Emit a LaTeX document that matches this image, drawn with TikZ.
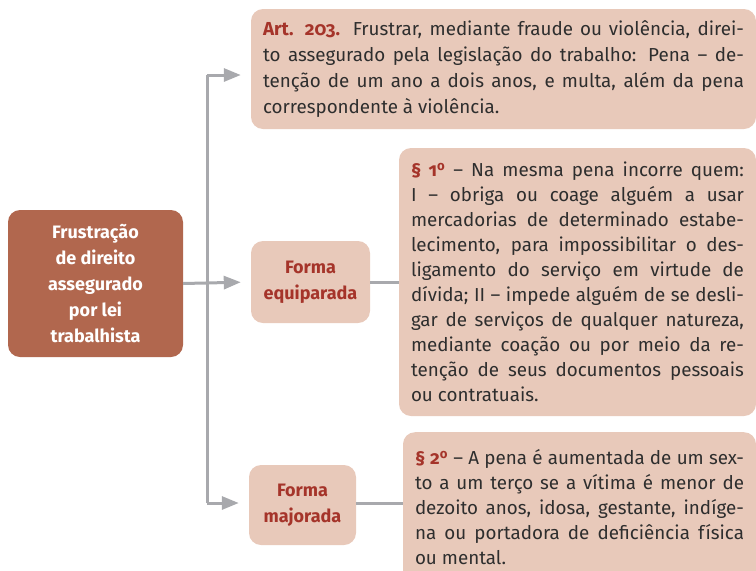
\documentclass[tikz,border=0pt]{standalone}
\usepackage{fontspec}
\setmainfont{Fira Sans}[Numbers=OldStyle]
\usepackage{tikz}
\usepackage{xcolor}
\usetikzlibrary{arrows.meta,calc}
\definecolor{mainfill}{RGB}{177,103,78}
\definecolor{lightfill}{RGB}{232,201,186}
\definecolor{headred}{RGB}{165,52,42}
\definecolor{linegray}{RGB}{168,169,173}
\tolerance=9999

\tikzset{
    mainbox/.style={rounded corners=12pt, fill=mainfill, text=white, align=center,
        font=\bfseries\fontsize{18}{26}\selectfont, minimum width=175pt, minimum height=147pt},
    formbox/.style={rounded corners=12pt, fill=lightfill, text=headred, align=center,
        font=\bfseries\fontsize{18}{26}\selectfont},
    lawbox/.style={rounded corners=12pt, fill=lightfill, text=black!82, align=justify,
        font=\fontsize{18.8}{25}\selectfont, inner xsep=12pt, inner ysep=9pt},
    conn/.style={draw=linegray, line width=3pt},
    arr/.style={conn, -{Triangle[length=17pt,width=13pt]}, shorten >=10pt}
}
\newcommand{\hd}[1]{\textcolor{headred}{\bfseries #1}}
\newcommand{\ord}{\textsuperscript{o}}

\begin{document}
\begin{tikzpicture}[x=1pt, y=-1pt]
    \useasboundingbox (0,0) rectangle (756,571);

    % Main box
    \node[mainbox] (main) at (95.5,283.5) {Frustração\\de direito\\assegurado\\por lei\\trabalhista};

    % Article text
    \node[lawbox, font=\fontsize{18.8}{26}\selectfont, text width=481pt, minimum width=505pt, minimum height=120pt] (art) at (503.5,69)
        {\hd{Art. 203.} Frustrar, mediante fraude ou violência, direi-\linebreak
        to assegurado pela legislação do trabalho: Pena – de-\linebreak
        tenção de um ano a dois anos, e multa, além da pena\linebreak
        correspondente à violência.};

    % Forms
    \node[formbox, minimum width=119pt, minimum height=82pt] (equip) at (310.5,282) {Forma\\equiparada};
    \node[formbox, minimum width=107pt, minimum height=80pt] (major) at (302.5,505) {Forma\\majorada};

    % Paragraphs
    \node[lawbox, text width=333pt, minimum width=357pt, minimum height=268pt] (par1) at (577.5,282)
        {\hd{§ 1\ord} – Na mesma pena incorre quem:\linebreak
        I – obriga ou coage alguém a usar\linebreak
        mercadorias de determinado estabe-\linebreak
        lecimento, para impossibilitar o des-\linebreak
        ligamento do serviço em virtude de\linebreak
        dívida; II – impede alguém de se desli-\linebreak
        gar de serviços de qualquer natureza,\linebreak
        mediante coação ou por meio da re-\linebreak
        tenção de seus documentos pessoais\linebreak
        ou contratuais.};
    \node[lawbox, text width=329pt, minimum width=353pt, minimum height=150pt, anchor=north] (par2) at (579.5,432)
        {\hd{§ 2\ord} – A pena é aumentada de um sex-\linebreak
        to a um terço se a vítima é menor de\linebreak
        dezoito anos, idosa, gestante, indíge-\linebreak
        na ou portadora de deficiência física\linebreak
        ou mental.};

    % Connectors
    \coordinate (top) at (207,75);
    \coordinate (bot) at (207,503);
    \draw[conn] (top) -- (bot);
    \draw[arr] (top) -- (art.west |- top);
    \draw[arr] (main.east) -- (equip.west);
    \draw[arr] (bot) -- (major.west |- bot);
    \draw[conn] (equip.east) -- (par1.west |- equip.east);
    \draw[conn] (major.east |- bot) -- (par2.west |- bot);
\end{tikzpicture}
\end{document}
